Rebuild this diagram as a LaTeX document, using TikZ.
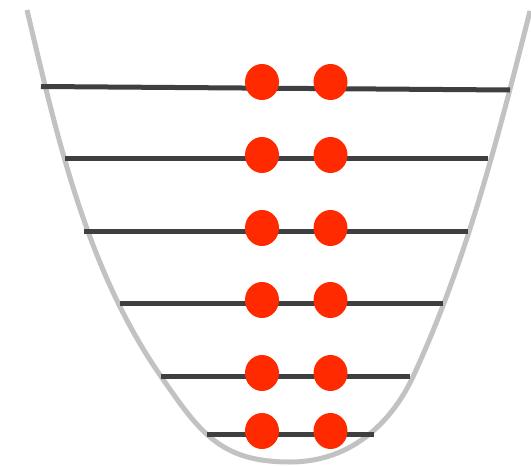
\documentclass[tikz,border=0pt]{standalone}
\begin{document}
\begin{tikzpicture}[x=1pt,y=-1pt,
  well/.style={draw=wellgray,line width=5pt,line cap=butt},
  level/.style={draw=levelgray,line width=5pt},
  particle/.style={fill=particlered,draw=none}]
\definecolor{wellgray}{HTML}{C2C2C2}
\definecolor{levelgray}{HTML}{3E3F41}
\definecolor{particlered}{HTML}{FF2A00}
\useasboundingbox (0,0) rectangle (531,466);

% potential well, built from four cubic pieces
\coordinate (wtl) at (27,10);
\coordinate (wl)  at (160,375);
\coordinate (wb)  at (290,462);
\coordinate (wr)  at (413,376.7);
\coordinate (wtr) at (530,11);
\draw[well] (wtl) .. controls (57,136.5) and (86.2,268.1) .. (wl)
                  .. controls (199.8,432.5) and (220,462) .. (wb)
                  .. controls (355,462) and (394,417.5) .. (wr)
                  .. controls (466.9,260.6) and (498.3,136) .. (wtr);

% energy levels
\coordinate (l1a) at (41,86.5);  \coordinate (l1b) at (510,90);
\coordinate (l2a) at (65,158.5); \coordinate (l2b) at (488,158.5);
\coordinate (l3a) at (84,231.5); \coordinate (l3b) at (468,231.5);
\coordinate (l4a) at (120,303.5);\coordinate (l4b) at (443,303.5);
\coordinate (l5a) at (161,376);  \coordinate (l5b) at (410,376);
\coordinate (l6a) at (207,434);  \coordinate (l6b) at (374,434);
\foreach \i in {1,...,6} \draw[level] (l\i a) -- (l\i b);

% particle pairs on each level
\foreach \y in {82,155,228,300,373,431} {
  \fill[particle] (262,\y) ellipse [x radius=17, y radius=18];
  \fill[particle] (330.5,\y) ellipse [x radius=17, y radius=18];
}
\end{tikzpicture}
\end{document}
